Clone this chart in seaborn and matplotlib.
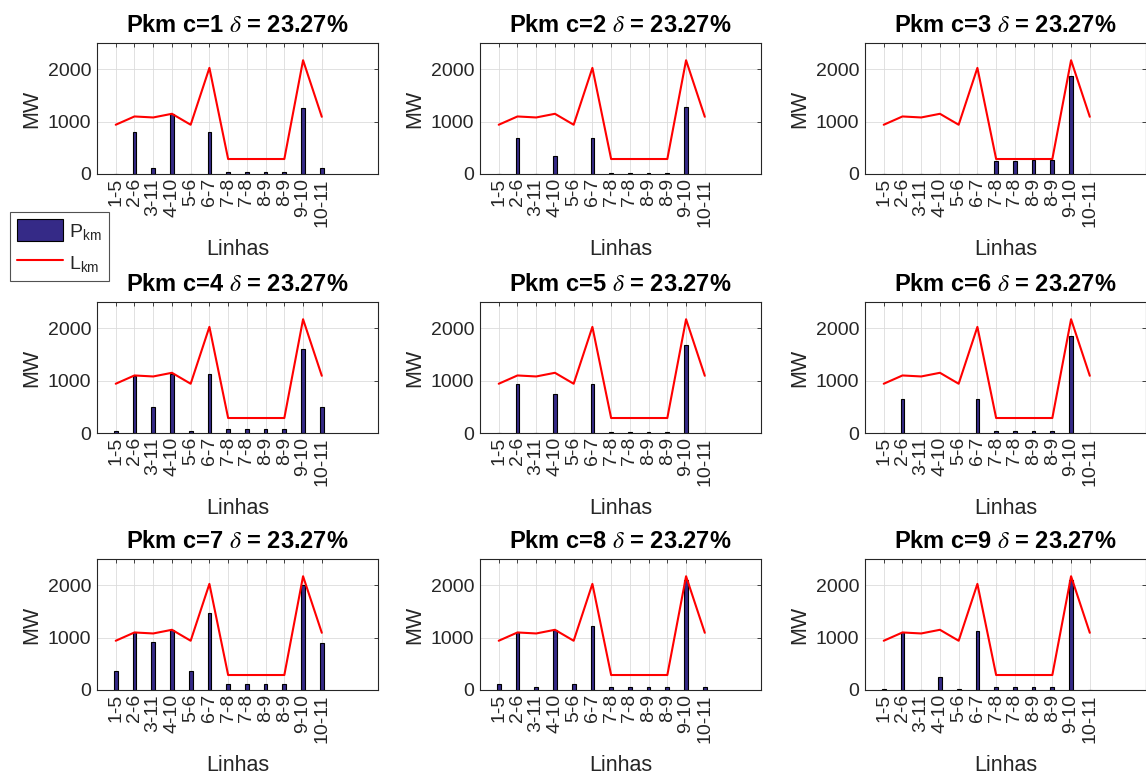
import numpy as np
import pandas as pd
import seaborn as sns
import matplotlib.pyplot as plt

# line names (x categories) and line limits
linhas = ['1-5', '2-6', '3-11', '4-10', '5-6', '6-7', '7-8', '7-8', '8-9', '8-9', '9-10', '10-11']
L_km = [940, 1098, 1079, 1149, 940, 2025, 286, 286, 286, 286, 2171, 1092]

# power flow per case c=1..9
P_c1 = [0, 800, 121, 1149, 0, 806, 30, 30, 30, 30, 1263, 121]
P_c2 = [0, 679, 0, 343, 0, 679, 20, 20, 20, 20, 1276, 0]
P_c3 = [0, 0, 0, 0, 0, 0, 254, 254, 267, 267, 1867, 0]
P_c4 = [38, 1083, 497, 1121, 38, 1134, 76, 76, 76, 76, 1611, 490]
P_c5 = [5, 930, 5, 752, 5, 943, 20, 20, 20, 20, 1682, 5]
P_c6 = [0, 650, 0, 0, 0, 656, 35, 35, 35, 35, 1847, 0]
P_c7 = [362, 1098, 914, 1143, 362, 1460, 114, 114, 114, 114, 2000, 895]
P_c8 = [120, 1098, 57, 1143, 120, 1219, 57, 57, 57, 57, 2095, 57]
P_c9 = [15, 1098, 0, 248, 15, 1117, 57, 57, 57, 57, 2100, 0]
cases = [P_c1, P_c2, P_c3, P_c4, P_c5, P_c6, P_c7, P_c8, P_c9]
delta = '23.27%'

sns.set_style('white')
plt.rcParams['font.family'] = ['Liberation Sans', 'DejaVu Sans']
plt.rcParams['mathtext.fontset'] = 'custom'
plt.rcParams['mathtext.rm'] = 'Liberation Sans'
plt.rcParams['mathtext.it'] = 'Liberation Sans:italic'

bar_color = '#352A87'
ax_color = '#262626'

W, H = 1146, 781
fig = plt.figure(figsize=(W / 100, H / 100), dpi=100)

col_left = [97, 480, 865]
row_top = [43, 302, 559]
ax_w, ax_h = 281, 131

pos = np.arange(1, len(linhas) + 1)
axes = []
for k, P in enumerate(cases):
    r, c = divmod(k, 3)
    ax = fig.add_axes([col_left[c] / W, 1 - (row_top[r] + ax_h) / H, ax_w / W, ax_h / H])
    df = pd.DataFrame({'pos': pos, 'P': P, 'L': L_km})
    sns.barplot(data=df, x='pos', y='P', native_scale=True, width=0.2,
                color=bar_color, saturation=1, edgecolor='black', linewidth=0.8,
                ax=ax, label='$\\mathrm{P_{km}}$', zorder=2)
    sns.lineplot(data=df, x='pos', y='L', color='red', linewidth=1.5, ax=ax,
                 label='$\\mathrm{L_{km}}$', zorder=3)
    ax.set_xlim(0, 15)
    ax.set_ylim(0, 2500)
    ax.set_xticks(pos)
    ax.set_xticklabels(linhas, rotation=90, fontsize=14, color=ax_color)
    ax.set_yticks([0, 1000, 2000])
    ax.tick_params(axis='y', labelsize=14, colors=ax_color, pad=4)
    ax.tick_params(axis='x', pad=3)
    ax.tick_params(direction='in', top=True, right=True, length=3, width=0.6, color=ax_color)
    ax.grid(True, color='#dcdcdc', linewidth=0.6, zorder=0)
    ax.set_axisbelow(True)
    for s in ax.spines.values():
        s.set_color(ax_color)
        s.set_linewidth(0.8)
    ax.set_xlabel('Linhas', fontsize=15.5, color=ax_color, labelpad=9)
    ax.set_ylabel('MW', fontsize=15.5, color=ax_color, labelpad=4)
    t = ax.set_title('Pkm c=%d $\\delta$ = %s' % (k + 1, delta), fontsize=17,
                     fontweight='bold', color='black', pad=8)
    t.set_math_fontfamily('stix')
    ax.get_legend().remove()
    axes.append(ax)

handles, labels = axes[0].get_legend_handles_labels()
order = [labels.index('$\\mathrm{P_{km}}$'), labels.index('$\\mathrm{L_{km}}$')]
leg = fig.legend([handles[i] for i in order], [labels[i] for i in order],
                 loc='upper left', bbox_to_anchor=(10 / W, 1 - 212 / H),
                 fontsize=14, frameon=True, fancybox=False, edgecolor=ax_color,
                 handlelength=2.4, handleheight=1.4, handletextpad=0.3,
                 borderpad=0.35, labelspacing=0.5, borderaxespad=0)
leg.get_frame().set_linewidth(0.8)

fig.savefig('out.png', dpi=100)
